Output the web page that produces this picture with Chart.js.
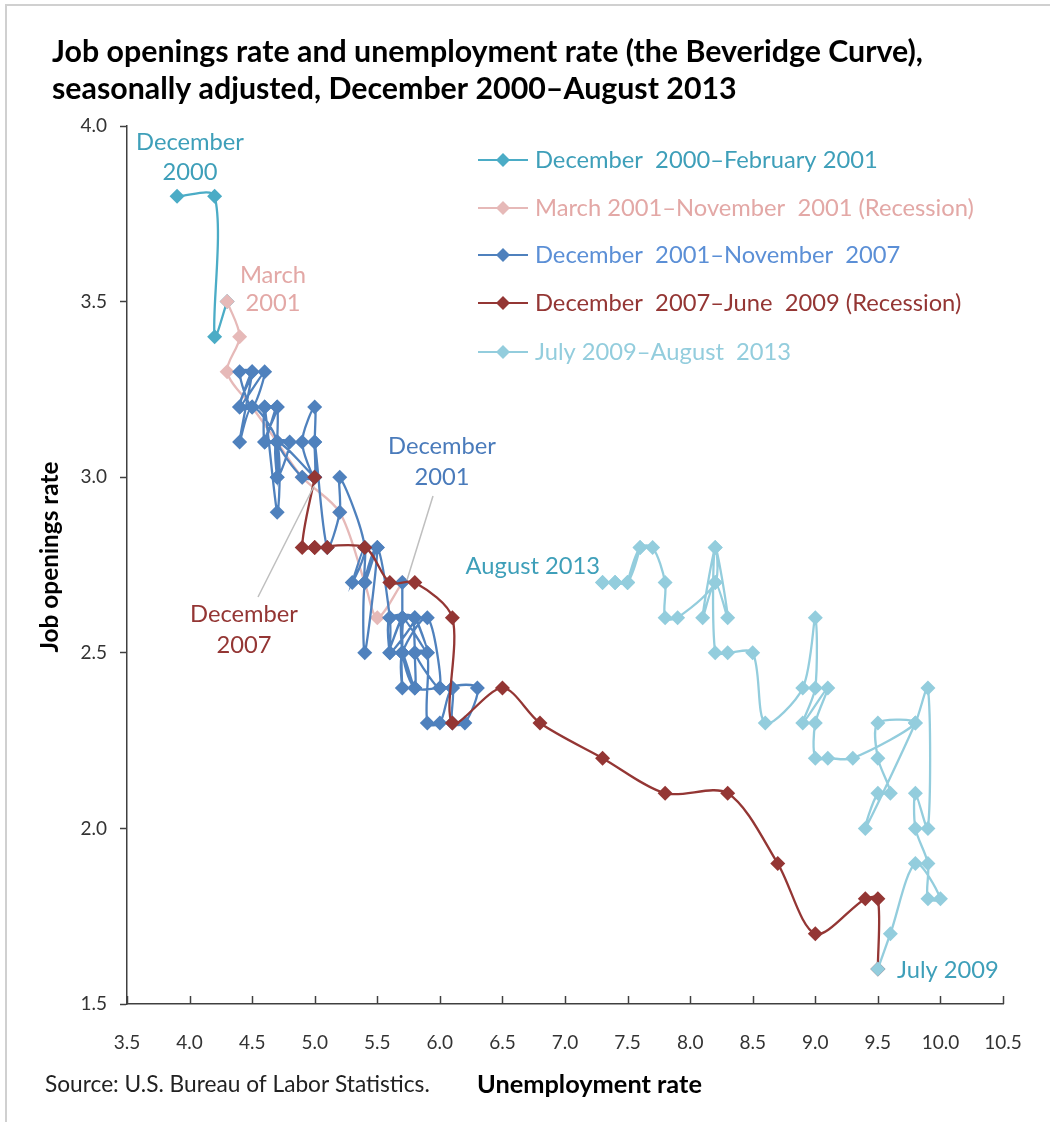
<!DOCTYPE html>
<html>
<head>
<meta charset="utf-8">
<script src="https://cdn.jsdelivr.net/npm/chart.js"></script>
<style>
  html, body { margin: 0; padding: 0; background: #fff; }
  #wrap { width: 1050px; height: 1122px; position: relative; }
</style>
</head>
<body>
<div id="wrap"><canvas id="beveridge" width="1050" height="1122"></canvas></div>
<script>
// series: unemployment rate (x) / job openings rate (y)
// last point of each series = first point of the next one (Excel joins them)
const s1Label = "December  2000\u2013February 2001";
const s1Unemp = [3.9, 4.2, 4.2, 4.3];
const s1Open  = [3.8, 3.8, 3.4, 3.5];

const s2Label = "March 2001\u2013November  2001 (Recession)";
const s2Unemp = [4.3, 4.4, 4.3, 4.5, 4.7, 4.9, 5.2, 5.4, 5.5, 5.7];
const s2Open  = [3.5, 3.4, 3.3, 3.2, 3.1, 3.0, 2.9, 2.7, 2.6, 2.7];

const s3Label = "December  2001\u2013November  2007";
const s3Unemp = [5.7,
  5.7, 5.7, 5.7, 5.9, 5.8, 5.8, 5.8, 5.7, 5.7, 5.7, 5.9, 6.0,
  5.8, 5.9, 5.9, 6.0, 6.1, 6.3, 6.2, 6.1, 6.1, 6.0, 5.8, 5.7,
  5.7, 5.6, 5.8, 5.6, 5.6, 5.6, 5.5, 5.4, 5.4, 5.5, 5.4, 5.4,
  5.3, 5.4, 5.2, 5.2, 5.1, 5.0, 5.0, 4.9, 5.0, 5.0, 5.0, 4.9,
  4.7, 4.8, 4.7, 4.7, 4.6, 4.6, 4.7, 4.7, 4.5, 4.4, 4.5, 4.4,
  4.6, 4.5, 4.4, 4.5, 4.4, 4.6, 4.7, 4.6, 4.7, 4.7, 4.7, 5.0];
const s3Open = [2.7,
  2.6, 2.5, 2.6, 2.5, 2.6, 2.5, 2.4, 2.5, 2.4, 2.5, 2.6, 2.4,
  2.5, 2.5, 2.3, 2.3, 2.4, 2.4, 2.3, 2.3, 2.4, 2.4, 2.4, 2.5,
  2.6, 2.5, 2.6, 2.6, 2.5, 2.6, 2.8, 2.7, 2.5, 2.8, 2.7, 2.8,
  2.7, 2.8, 3.0, 2.9, 2.8, 3.1, 3.0, 3.1, 3.2, 3.1, 3.0, 3.0,
  3.1, 3.1, 3.0, 3.2, 3.1, 3.2, 2.9, 3.1, 3.2, 3.1, 3.3, 3.2,
  3.3, 3.2, 3.3, 3.3, 3.2, 3.2, 3.2, 3.1, 3.1, 3.0, 3.1, 3.0];

const s4Label = "December  2007\u2013June  2009 (Recession)";
const s4Unemp = [5.0, 4.9, 5.0, 5.1, 5.0, 5.4, 5.6, 5.8, 6.1, 6.1, 6.5, 6.8, 7.3, 7.8, 8.3, 8.7, 9.0, 9.4, 9.5, 9.5];
const s4Open  = [3.0, 2.8, 2.8, 2.8, 2.8, 2.8, 2.7, 2.7, 2.6, 2.3, 2.4, 2.3, 2.2, 2.1, 2.1, 1.9, 1.7, 1.8, 1.8, 1.6];

const s5Label = "July 2009\u2013August  2013";
const s5Unemp = [9.5, 9.6, 9.8, 10.0, 9.9, 9.9,
  9.8, 9.8, 9.9, 9.9, 9.8, 9.4, 9.5, 9.6, 9.5, 9.5, 9.8, 9.3,
  9.1, 9.0, 9.0, 9.1, 8.9, 9.0, 9.0, 8.9, 8.6, 8.5, 8.3, 8.2,
  8.2, 8.3, 8.2, 8.1, 8.2, 8.2, 7.9, 7.8, 7.8, 7.7, 7.6, 7.5,
  7.6, 7.5, 7.4, 7.5, 7.4, 7.4, 7.3, 7.3];
const s5Open = [1.6, 1.7, 1.9, 1.8, 1.8, 1.9,
  2.0, 2.1, 2.0, 2.4, 2.3, 2.0, 2.1, 2.1, 2.2, 2.3, 2.3, 2.2,
  2.2, 2.2, 2.3, 2.4, 2.3, 2.4, 2.6, 2.4, 2.3, 2.5, 2.5, 2.5,
  2.8, 2.6, 2.7, 2.6, 2.8, 2.7, 2.6, 2.6, 2.7, 2.8, 2.8, 2.7,
  2.8, 2.7, 2.7, 2.7, 2.7, 2.7, 2.7, 2.7];

const xTicks = [3.5, 4.0, 4.5, 5.0, 5.5, 6.0, 6.5, 7.0, 7.5, 8.0, 8.5, 9.0, 9.5, 10.0, 10.5];
const yTicks = [1.5, 2.0, 2.5, 3.0, 3.5, 4.0];

const FONT = "Lato, 'Open Sans', sans-serif";

function pts(xs, ys) {
    return xs.map((x, i) => ({ x: x, y: ys[i] }));
}

function series(label, xs, ys, color, textColor, order) {
    return {
        label: label,
        data: pts(xs, ys),
        showLine: true,
        borderColor: color,
        backgroundColor: color,
        pointBackgroundColor: color,
        pointBorderColor: color,
        pointStyle: "rectRot",
        pointRadius: 7.5,
        pointBorderWidth: 0,
        borderWidth: 2.3,
        tension: 0.3,
        order: order,
        textColor: textColor
    };
}

// size a font so the text comes out at the width seen in the picture
function fitSize(ctx, text, weight, target) {
    ctx.font = weight + " 20px " + FONT;
    return 20 * target / ctx.measureText(text).width;
}

const overlay = {
    id: "overlay",
    beforeDraw(chart) {
        const ctx = chart.ctx;
        ctx.save();
        ctx.fillStyle = "#fff";
        ctx.fillRect(0, 0, chart.width, chart.height);
        ctx.restore();
    },
    afterDraw(chart) {
        const ctx = chart.ctx;
        const xs = chart.scales.x, ys = chart.scales.y;
        ctx.save();

        // frame of the original figure
        ctx.strokeStyle = "#d0d0d0";
        ctx.lineWidth = 2;
        ctx.beginPath();
        ctx.moveTo(6, 1122); ctx.lineTo(6, 5); ctx.lineTo(1050, 5);
        ctx.stroke();

        // x tick marks point inward
        ctx.strokeStyle = "#404040";
        ctx.lineWidth = 1.5;
        xTicks.forEach(v => {
            const px = Math.round(xs.getPixelForValue(v)) + 0.5;
            ctx.beginPath();
            ctx.moveTo(px, ys.bottom);
            ctx.lineTo(px, ys.bottom - 8);
            ctx.stroke();
        });

        // title
        const t1 = "Job openings rate and unemployment rate (the Beveridge Curve),";
        const t2 = "seasonally adjusted, December 2000\u2013August 2013";
        const ts = fitSize(ctx, t1, "bold", 871);
        ctx.font = "bold " + ts + "px " + FONT;
        ctx.fillStyle = "#000";
        ctx.textAlign = "left";
        ctx.textBaseline = "middle";
        ctx.fillText(t1, 52, 52);
        ctx.fillText(t2, 52, 89);

        // axis titles and source
        const ys2 = fitSize(ctx, "Job openings rate", "bold", 191);
        ctx.save();
        ctx.translate(50, 557);
        ctx.rotate(-Math.PI / 2);
        ctx.font = "bold " + ys2 + "px " + FONT;
        ctx.textAlign = "center";
        ctx.fillStyle = "#000";
        ctx.fillText("Job openings rate", 0, 0);
        ctx.restore();

        const xs2 = fitSize(ctx, "Unemployment rate", "bold", 225);
        ctx.font = "bold " + xs2 + "px " + FONT;
        ctx.textAlign = "left";
        ctx.fillText("Unemployment rate", 477, 1085);

        const src = "Source: U.S. Bureau of Labor Statistics.";
        const ss = fitSize(ctx, src, "normal", 385);
        ctx.font = ss + "px " + FONT;
        ctx.fillStyle = "#222";
        ctx.fillText(src, 45, 1085);

        // legend inside the plot
        const ds = chart.data.datasets;
        const ls = fitSize(ctx, ds[0].label, "normal", 343);
        ctx.font = ls + "px " + FONT;
        const rows = [160, 208, 255, 303, 352];
        ds.forEach((d, i) => {
            const y = rows[i];
            ctx.strokeStyle = d.borderColor;
            ctx.lineWidth = 2;
            ctx.beginPath();
            ctx.moveTo(478, y); ctx.lineTo(528, y);
            ctx.stroke();
            ctx.fillStyle = d.borderColor;
            ctx.beginPath();
            ctx.moveTo(496, y); ctx.lineTo(503, y - 7); ctx.lineTo(510, y); ctx.lineTo(503, y + 7);
            ctx.closePath();
            ctx.fill();
            ctx.fillStyle = d.textColor;
            ctx.textAlign = "left";
            ctx.fillText(d.label, 535, y);
        });

        // leader lines
        ctx.strokeStyle = "#bfbfbf";
        ctx.lineWidth = 1.5;
        ctx.beginPath();
        ctx.moveTo(433, 496); ctx.lineTo(407, 580);
        ctx.moveTo(258, 597); ctx.lineTo(314, 486);
        ctx.stroke();

        // point annotations
        const notes = [
            ["December", 190, 142, "#3e9fb9", "center"],
            ["2000", 190, 172, "#3e9fb9", "center"],
            ["March", 273, 275, "#e3a8a6", "center"],
            ["2001", 273, 303, "#e3a8a6", "center"],
            ["December", 442, 446, "#4a7bbb", "center"],
            ["2001", 442, 477, "#4a7bbb", "center"],
            ["December", 244, 614, "#943634", "center"],
            ["2007", 244, 645, "#943634", "center"],
            ["August 2013", 600, 566, "#3e9fb9", "right"],
            ["July 2009", 897, 970, "#3e9fb9", "left"]
        ];
        notes.forEach(n => {
            ctx.fillStyle = n[3];
            ctx.textAlign = n[4];
            ctx.fillText(n[0], n[1], n[2]);
        });

        ctx.restore();
    }
};

document.addEventListener("DOMContentLoaded", function () {
    const ctx = document.getElementById("beveridge").getContext("2d");

    new Chart(ctx, {
        type: "scatter",
        data: {
            datasets: [
                series(s1Label, s1Unemp, s1Open, "#4bacc6", "#3e9fb9", 5),
                series(s2Label, s2Unemp, s2Open, "#e6b9b8", "#e3a8a6", 4),
                series(s3Label, s3Unemp, s3Open, "#4f81bd", "#5b8fd6", 3),
                series(s4Label, s4Unemp, s4Open, "#943634", "#943634", 2),
                series(s5Label, s5Unemp, s5Open, "#93cddd", "#93cddd", 1)
            ]
        },
        options: {
            responsive: false,
            animation: false,
            layout: { padding: { top: 126, right: 47, left: 0, bottom: 0 } },
            plugins: {
                legend: { display: false },
                tooltip: { enabled: false }
            },
            scales: {
                x: {
                    type: "linear",
                    min: 3.5,
                    max: 10.5,
                    afterFit: s => { s.height = 118; },
                    afterBuildTicks: s => { s.ticks = xTicks.map(v => ({ value: v })); },
                    ticks: {
                        padding: 27,
                        color: "#333",
                        font: { family: FONT, size: 19 },
                        callback: v => Number(v).toFixed(1)
                    },
                    grid: { drawOnChartArea: false, drawTicks: false },
                    border: { color: "#404040", width: 1.5 }
                },
                y: {
                    type: "linear",
                    min: 1.5,
                    max: 4.0,
                    afterFit: s => { s.width = 127; },
                    afterBuildTicks: s => { s.ticks = yTicks.map(v => ({ value: v })); },
                    ticks: {
                        padding: 13,
                        color: "#333",
                        font: { family: FONT, size: 19 },
                        callback: v => Number(v).toFixed(1)
                    },
                    grid: { drawOnChartArea: false, drawTicks: true, tickLength: 7, color: "#404040", tickWidth: 1.5 },
                    border: { color: "#404040", width: 1.5 }
                }
            }
        },
        plugins: [overlay]
    });
});
</script>
</body>
</html>
